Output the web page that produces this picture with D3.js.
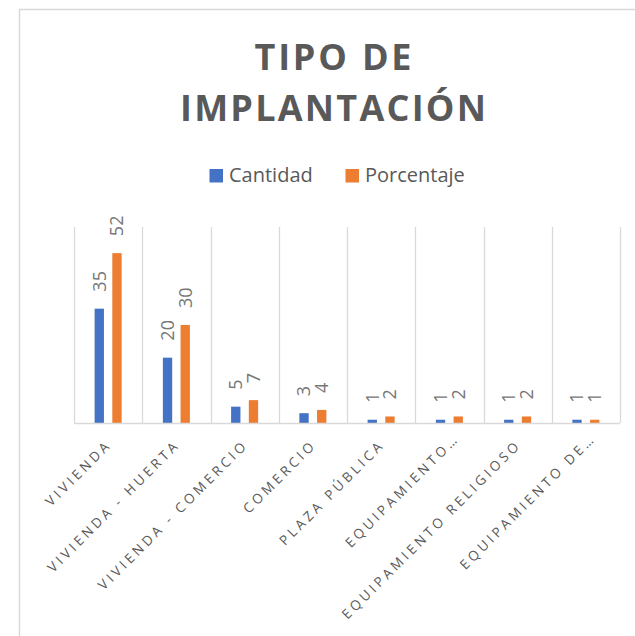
<!DOCTYPE html>
<html>
<head>
<meta charset="utf-8">
<script src="https://cdnjs.cloudflare.com/ajax/libs/d3/7.8.5/d3.min.js"></script>
<style>
  body { margin: 0; background: #fff; }
  text { font-family: "Open Sans", sans-serif; }
</style>
</head>
<body>
<div id="chart"></div>
<script>
var w = 635,
    h = 636;

var categories = ["VIVIENDA", "VIVIENDA - HUERTA", "VIVIENDA - COMERCIO", "COMERCIO",
                  "PLAZA PÚBLICA", "EQUIPAMIENTO…", "EQUIPAMIENTO RELIGIOSO", "EQUIPAMIENTO DE…"];
var series = ["Cantidad", "Porcentaje"];
var cantidad = [35, 20, 5, 3, 1, 1, 1, 1];
var porcentaje = [52, 30, 7, 4, 2, 2, 2, 1];
var titleLines = ["TIPO DE", "IMPLANTACIÓN"];
var colors = ["#4472C4", "#ED7D31"];

var rows = categories.map(function(c, i) {
  return { cat: c, values: [cantidad[i], porcentaje[i]] };
});

var svg = d3.select("#chart").append("svg")
  .attr("width", w)
  .attr("height", h);

// chart area border (only left and top visible)
svg.append("path")
  .attr("d", "M19.5 " + h + " L19.5 9.5 L" + w + " 9.5")
  .attr("fill", "none")
  .attr("stroke", "#d9d9d9")
  .attr("stroke-width", 1.5);

// title
svg.selectAll(".title")
  .data(titleLines)
  .enter().append("text")
  .attr("class", "title")
  .attr("x", 333)
  .attr("y", function(d, i) { return 69.5 + i * 51.5; })
  .attr("text-anchor", "middle")
  .attr("textLength", function(d, i) { return i == 0 ? 157 : 306; })
  .attr("lengthAdjust", "spacing")
  .style("font-size", "36px")
  .style("font-weight", "bold")
  .style("fill", "#595959")
  .text(function(d) { return d; });

// legend
var legendX = [209.5, 345.5];
var legend = svg.selectAll(".legend")
  .data(series)
  .enter().append("g")
  .attr("class", "legend")
  .attr("transform", function(d, i) { return "translate(" + legendX[i] + ",169)"; });

legend.append("rect")
  .attr("width", 13.5)
  .attr("height", 13.5)
  .attr("fill", function(d, i) { return colors[i]; });

legend.append("text")
  .attr("x", 19.5)
  .attr("y", 13.3)
  .style("font-size", "20px")
  .style("fill", "#595959")
  .text(function(d) { return d; });

// scales
var x = d3.scaleBand()
  .domain(categories)
  .range([74, 620])
  .paddingInner(0)
  .paddingOuter(0);

var xs = d3.scaleBand()
  .domain(series)
  .range([0, x.bandwidth()])
  .paddingInner(0.473)
  .paddingOuter(1.164);

var y = d3.scaleLinear()
  .domain([0, 60])
  .range([423, 227]);

// vertical gridlines between categories
var edges = categories.map(function(c) { return x(c); }).concat([x.range()[1]]);
svg.selectAll(".grid")
  .data(edges)
  .enter().append("line")
  .attr("class", "grid")
  .attr("x1", function(d) { return Math.round(d) + 0.5; })
  .attr("x2", function(d) { return Math.round(d) + 0.5; })
  .attr("y1", y(60))
  .attr("y2", y(0))
  .attr("stroke", "#d9d9d9")
  .attr("stroke-width", 1.3);

// bars
var groups = svg.selectAll(".cat")
  .data(rows)
  .enter().append("g")
  .attr("class", "cat")
  .attr("transform", function(d) { return "translate(" + x(d.cat) + ",0)"; });

groups.selectAll("rect")
  .data(function(d) { return d.values; })
  .enter().append("rect")
  .attr("x", function(d, i) { return xs(series[i]); })
  .attr("y", function(d) { return y(d); })
  .attr("width", xs.bandwidth())
  .attr("height", function(d) { return y(0) - y(d); })
  .attr("fill", function(d, i) { return colors[i]; });

// value labels, rotated
groups.selectAll(".val")
  .data(function(d) { return d.values; })
  .enter().append("text")
  .attr("class", "val")
  .attr("transform", function(d, i) {
    return "translate(" + (xs(series[i]) + xs.bandwidth() / 2) + "," + (y(d) - 17) + ") rotate(-90)";
  })
  .attr("dy", "0.35em")
  .style("font-size", "18px")
  .style("fill", "#767676")
  .text(function(d) { return d; });

// baseline
svg.append("line")
  .attr("x1", 74)
  .attr("x2", 620)
  .attr("y1", y(0) + 0.5)
  .attr("y2", y(0) + 0.5)
  .attr("stroke", "#d9d9d9")
  .attr("stroke-width", 1.3);

// category labels at -45 degrees
var ls = 3.4;
svg.selectAll(".cat-label")
  .data(categories)
  .enter().append("text")
  .attr("class", "cat-label")
  .attr("transform", function(d) {
    var shift = d.slice(-1) == "…" ? 9 : 0;
    var px = x(d) + x.bandwidth() / 2 + 2 + (ls + shift) * 0.707,
        py = 448 - (ls + shift) * 0.707;
    return "translate(" + px + "," + py + ") rotate(-45)";
  })
  .attr("text-anchor", "end")
  .style("font-size", "13.5px")
  .style("letter-spacing", ls + "px")
  .style("fill", "#595959")
  .text(function(d) { return d; });
</script>
</body>
</html>
